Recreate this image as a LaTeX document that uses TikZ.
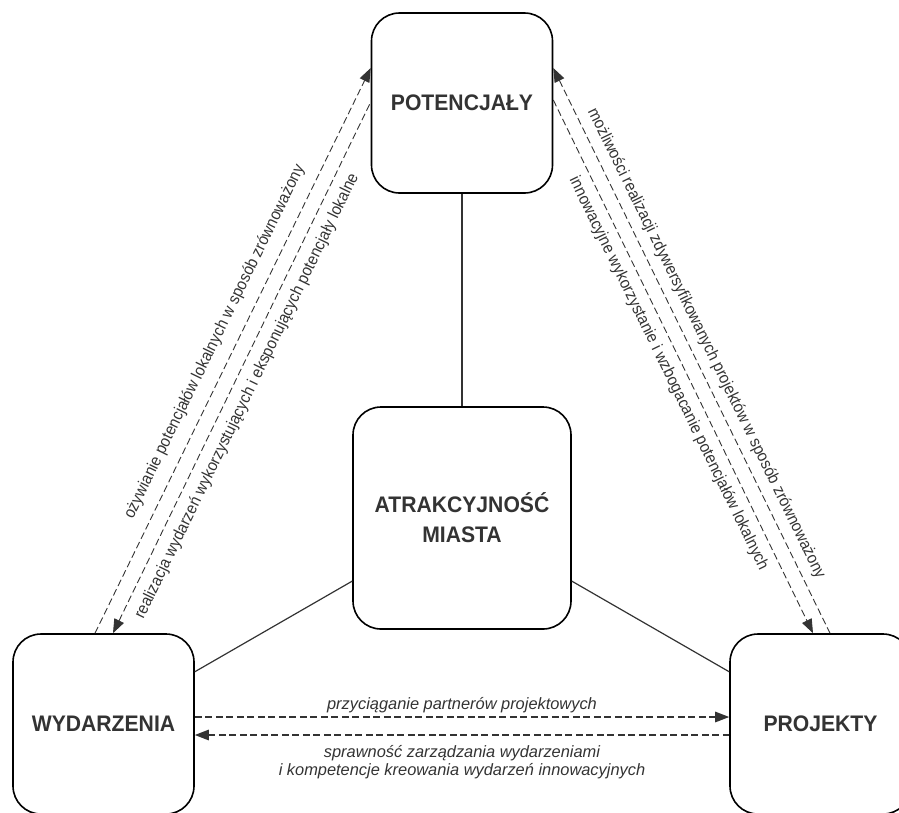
\documentclass[tikz,border=0pt]{standalone}
\usepackage{fontspec}
\setmainfont{Liberation Sans}
\newfontfamily\boxfont[FakeStretch=0.94]{Liberation Sans}
\newfontfamily\slimfont[FakeStretch=0.92]{Liberation Sans}
\usetikzlibrary{arrows.meta,calc}
\definecolor{ink}{HTML}{333333}
\tikzstyle{box}=[draw,line width=1.6pt,rounded corners=28pt,minimum width=181pt,minimum height=180pt,inner sep=0pt,align=center,text=ink,font=\boxfont\fontsize{22.5}{30}\selectfont\bfseries]
\tikzstyle{link}=[draw=ink,line width=1.2pt]
\tikzstyle{flow}=[draw=ink,line width=0.9pt,dash pattern=on 7pt off 3.5pt]
\tikzstyle{lab}=[text=ink,inner sep=0pt,font=\slimfont\fontsize{16.5}{18}\selectfont]
\tikzstyle{labi}=[text=ink,inner sep=3pt,align=center,font=\itshape\fontsize{16.4}{18}\selectfont]

\begin{document}
\begin{tikzpicture}[
      x=1pt,y=-1pt,
      >={Triangle[length=14pt,width=10.5pt]}
    ]
      \useasboundingbox (0,0) rectangle (899,812);
      \node [box] (pot)  at (462,103) {POTENCJAŁY};
      \node [box] (wyd)  at (103.5,724) {WYDARZENIA};
      \node [box] (proj) at (820.5,724) {PROJEKTY};
      \node [box,minimum width=218pt,minimum height=222pt] (atr) at (462,518) {ATRAKCYJNOŚĆ\\MIASTA};

      \draw[link] (pot) -- (atr);
      \draw[link] (atr) -- (wyd);
      \draw[link] (atr) -- (proj);

      % left side
      \draw[flow,->] ([xshift=-8.5pt]wyd.north) -- node[lab,sloped,above=12pt] {ożywianie potencjałów lokalnych w sposób zrównoważony} ([yshift=35pt]pot.west);
      \draw[flow,<-] ([xshift=9.5pt]wyd.north) -- node[lab,sloped,below=9pt,pos=0.46] {realizacja wydarzeń wykorzystujących i eksponujących potencjały lokalne} ([yshift=1pt]pot.west);

      % right side
      \draw[flow,<-] ([yshift=35pt]pot.east) -- node[lab,sloped,above=8pt] {możliwości realizacji zdywersyfikowanych projektów w sposób zrównoważony} ([xshift=9.5pt]proj.north);
      \draw[flow,->] ([yshift=3pt]pot.east) -- node[lab,sloped,below=8pt] {innowacyjne wykorzystanie i wzbogacanie potencjałów lokalnych} ([xshift=-7.5pt]proj.north);

      % bottom
      \draw[flow,line width=1.3pt,->] ([yshift=7pt]wyd.east) -- node[labi,above] {przyciąganie partnerów projektowych} ([yshift=7pt]proj.west);
      \draw[flow,line width=1.3pt,<-] ([yshift=-11pt]wyd.east) -- node[labi,below=7pt] {sprawność zarządzania wydarzeniami\\i kompetencje kreowania wydarzeń innowacyjnych} ([yshift=-11pt]proj.west);
\end{tikzpicture}
\end{document}
